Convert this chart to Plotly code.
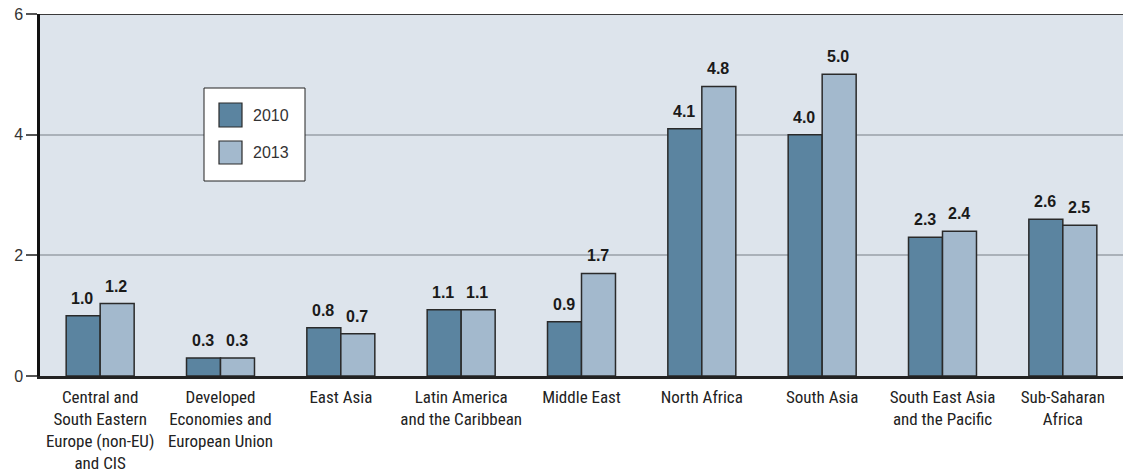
import plotly.graph_objects as go

CATEGORIES = [
    "Central and<br>South Eastern<br>Europe (non-EU)<br>and CIS",
    "Developed<br>Economies and<br>European Union",
    "East Asia",
    "Latin America<br>and the Caribbean",
    "Middle East",
    "North Africa",
    "South Asia",
    "South East Asia<br>and the Pacific",
    "Sub-Saharan<br>Africa",
]
SERIES = ["2010", "2013"]
VALUES_2010 = [1.0, 0.3, 0.8, 1.1, 0.9, 4.1, 4.0, 2.3, 2.6]
VALUES_2013 = [1.2, 0.3, 0.7, 1.1, 1.7, 4.8, 5.0, 2.4, 2.5]
Y_TICKS = [0, 2, 4, 6]

COLORS = ["#5b84a0", "#a3b9cd"]
W, H = 1123, 473
ML, MR, MT, MB = 40, 0, 14, 97
PW, PH = W - ML - MR, H - MT - MB


def px(x):
    return (x - ML) / PW


def py(y):
    return (MT + PH - y) / PH


fig = go.Figure()
for name, vals, col in zip(SERIES, [VALUES_2010, VALUES_2013], COLORS):
    fig.add_trace(go.Bar(
        x=CATEGORIES, y=vals, name=name,
        marker=dict(color=col, line=dict(color="#2a2a2a", width=1.5)),
        showlegend=False,
    ))

annotations = []
for vals, shift in [(VALUES_2010, -17), (VALUES_2013, 17)]:
    for c, v in zip(CATEGORIES, vals):
        annotations.append(dict(
            x=c, y=v, xref="x", yref="y", text=f"{v:.1f}", showarrow=False,
            xshift=shift - 1, yshift=7, yanchor="bottom",
            font=dict(family="Liberation Sans, Arial, sans-serif", size=16, color="#1a1a1a", weight="bold"),
        ))

# manual legend
shapes = [
    dict(type="rect", xref="paper", yref="paper", x0=px(204), x1=px(305), y0=py(181), y1=py(88),
         fillcolor="white", line=dict(color="#222", width=1)),
]
leg_rows = [(103, 127), (141, 164)]
for (t, b), name, col in zip(leg_rows, SERIES, COLORS):
    shapes.append(dict(type="rect", xref="paper", yref="paper", x0=px(219), x1=px(242),
                       y0=py(b), y1=py(t), fillcolor=col, line=dict(color="#2a2a2a", width=1.2)))
    annotations.append(dict(x=px(251), y=py((t + b) / 2), xref="paper", yref="paper", text=name,
                            showarrow=False, xanchor="left", yanchor="middle",
                            font=dict(family="Liberation Sans, Arial, sans-serif", size=16, color="#333")))

# top border line at y = 6
shapes.append(dict(type="line", xref="paper", yref="y", x0=0, x1=1, y0=6, y1=6,
                   line=dict(color="#3a3a3a", width=2), layer="above"))

# partially visible title (clipped at the top)
annotations.append(dict(x=px(398), y=py(2), xref="paper", yref="paper", text="by region (%)",
                        showarrow=False, xanchor="right", yanchor="bottom",
                        font=dict(family="Liberation Sans, Arial, sans-serif", size=16, color="#222", weight="bold")))

fig.update_layout(
    width=W, height=H,
    margin=dict(l=ML, r=MR, t=MT, b=MB),
    paper_bgcolor="white",
    plot_bgcolor="#dde4ec",
    barmode="group", bargap=0.435, bargroupgap=0,
    shapes=shapes, annotations=annotations,
    showlegend=False,
    xaxis=dict(
        type="category", range=[-0.5, 8.5], showgrid=False,
        showline=True, linecolor="#222", linewidth=2.5,
        ticks="", ticklabelstandoff=4,
        tickfont=dict(family="Liberation Sans Narrow, Roboto Condensed, DejaVu Sans Condensed, sans-serif",
                      size=17, color="#222"),
    ),
    yaxis=dict(
        range=[0, 6], tickvals=Y_TICKS, ticktext=[str(t) for t in Y_TICKS],
        showgrid=True, gridcolor="#aab1b9", gridwidth=1.5, zeroline=False,
        showline=True, linecolor="#111", linewidth=2.5,
        ticks="outside", ticklen=11, tickwidth=1.5, tickcolor="#555",
        tickfont=dict(family="Liberation Sans, Arial, sans-serif", size=16, color="#333"),
    ),
)

fig.write_html(
    "out.html",
    config={"displayModeBar": False},
    post_script="document.body.style.margin='0';document.body.style.padding='0';"
                "document.body.style.overflow='hidden';document.documentElement.style.overflow='hidden';",
)
